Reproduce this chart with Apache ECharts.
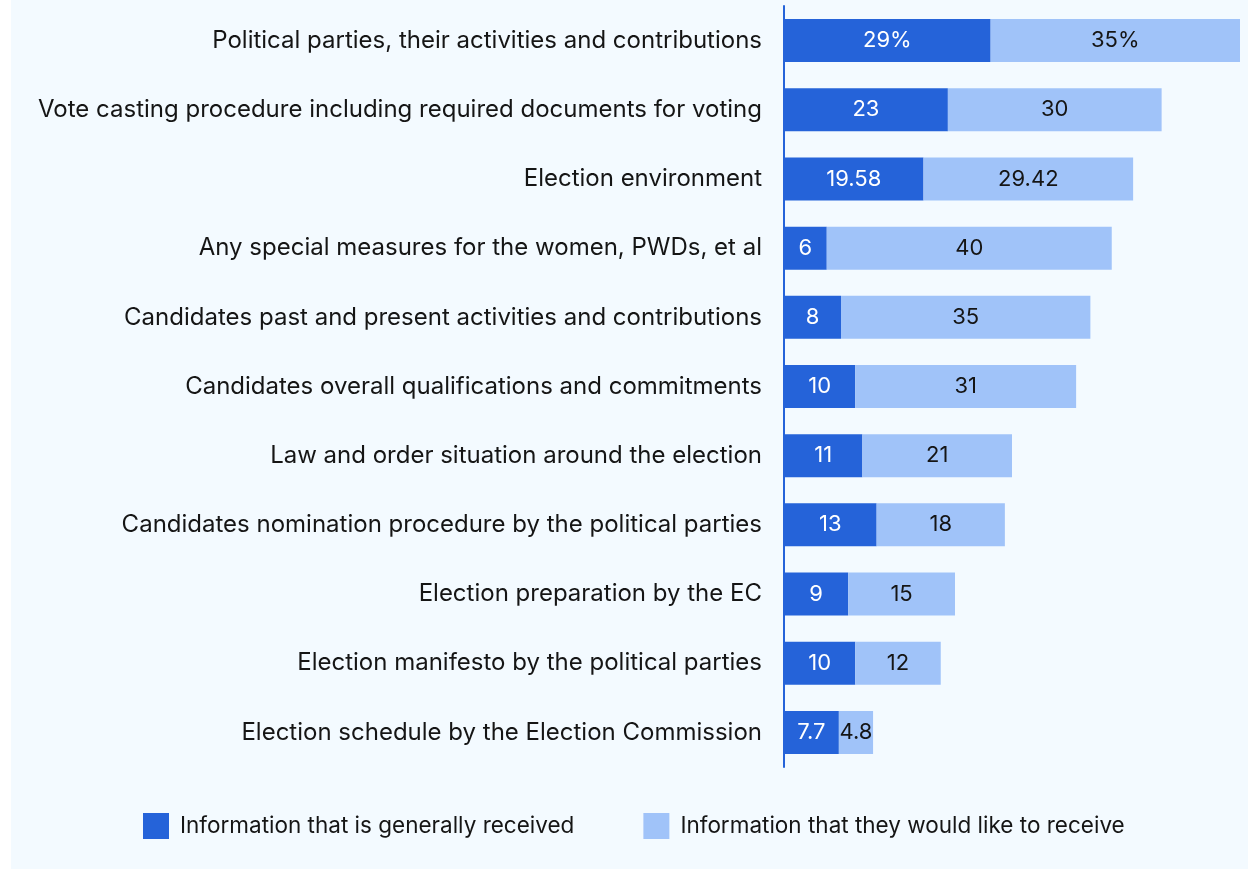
<!DOCTYPE html>
<html>
<head>
<meta charset="utf-8">
<script src="https://cdn.jsdelivr.net/npm/echarts@6/dist/echarts.min.js"></script>
<style>
  html, body { margin: 0; padding: 0; background: #ffffff; }
  #chart { position: absolute; left: 11px; top: 0; width: 1237px; height: 869px; background: #f3faff; }
</style>
</head>
<body>
<div id="chart"></div>
<script>
// Topics of election information (top to bottom)
const categories = [
  'Political parties, their activities and contributions',
  'Vote casting procedure including required documents for voting',
  'Election environment',
  'Any special measures for the women, PWDs, et al',
  'Candidates past and present activities and contributions',
  'Candidates overall qualifications and commitments',
  'Law and order situation around the election',
  'Candidates nomination procedure by the political parties',
  'Election preparation by the EC',
  'Election manifesto by the political parties',
  'Election schedule by the Election Commission'
];

// Share of respondents (%)
const receivedValues = [29, 23, 19.58, 6, 8, 10, 11, 13, 9, 10, 7.7];
const wantedValues = [35, 30, 29.42, 40, 35, 31, 21, 18, 15, 12, 4.8];

const seriesNames = ['Information that is generally received', 'Information that they would like to receive'];

const FONT = 'Inter, "Noto Sans", sans-serif';
const DARK = '#2563d9';
const LIGHT = '#a0c3f9';

// first row carries the percent sign
const fmt = p => p.dataIndex === 0 ? p.value + '%' : String(p.value);

const chart = echarts.init(document.getElementById('chart'));
chart.setOption({
  animation: false,
  textStyle: { fontFamily: FONT },
  grid: { left: 773, right: 8, top: 6, height: 761, containLabel: false },
  xAxis: {
    type: 'value', min: 0, max: 64,
    show: false
  },
  yAxis: {
    type: 'category', data: categories, inverse: true,
    axisLine: { show: true, lineStyle: { color: DARK, width: 2 } },
    axisTick: { show: false },
    axisLabel: { color: '#151515', fontSize: 24, margin: 22, fontFamily: FONT }
  },
  legend: {
    left: 127, top: 808,
    itemWidth: 26, itemHeight: 26, itemGap: 69,
    icon: 'rect',
    textStyle: { color: '#151515', fontSize: 22.5, fontFamily: FONT, padding: [0, 0, 0, 6] },
    data: seriesNames
  },
  series: [
    {
      name: seriesNames[0], type: 'bar', stack: 'total', barWidth: 43,
      data: receivedValues,
      itemStyle: { color: DARK },
      label: { show: true, position: 'inside', color: '#ffffff', fontSize: 22, fontFamily: FONT, formatter: fmt }
    },
    {
      name: seriesNames[1], type: 'bar', stack: 'total', barWidth: 43,
      data: wantedValues,
      itemStyle: { color: LIGHT },
      label: { show: true, position: 'inside', color: '#151515', fontSize: 22, fontFamily: FONT, formatter: fmt }
    }
  ]
});
</script>
</body>
</html>
